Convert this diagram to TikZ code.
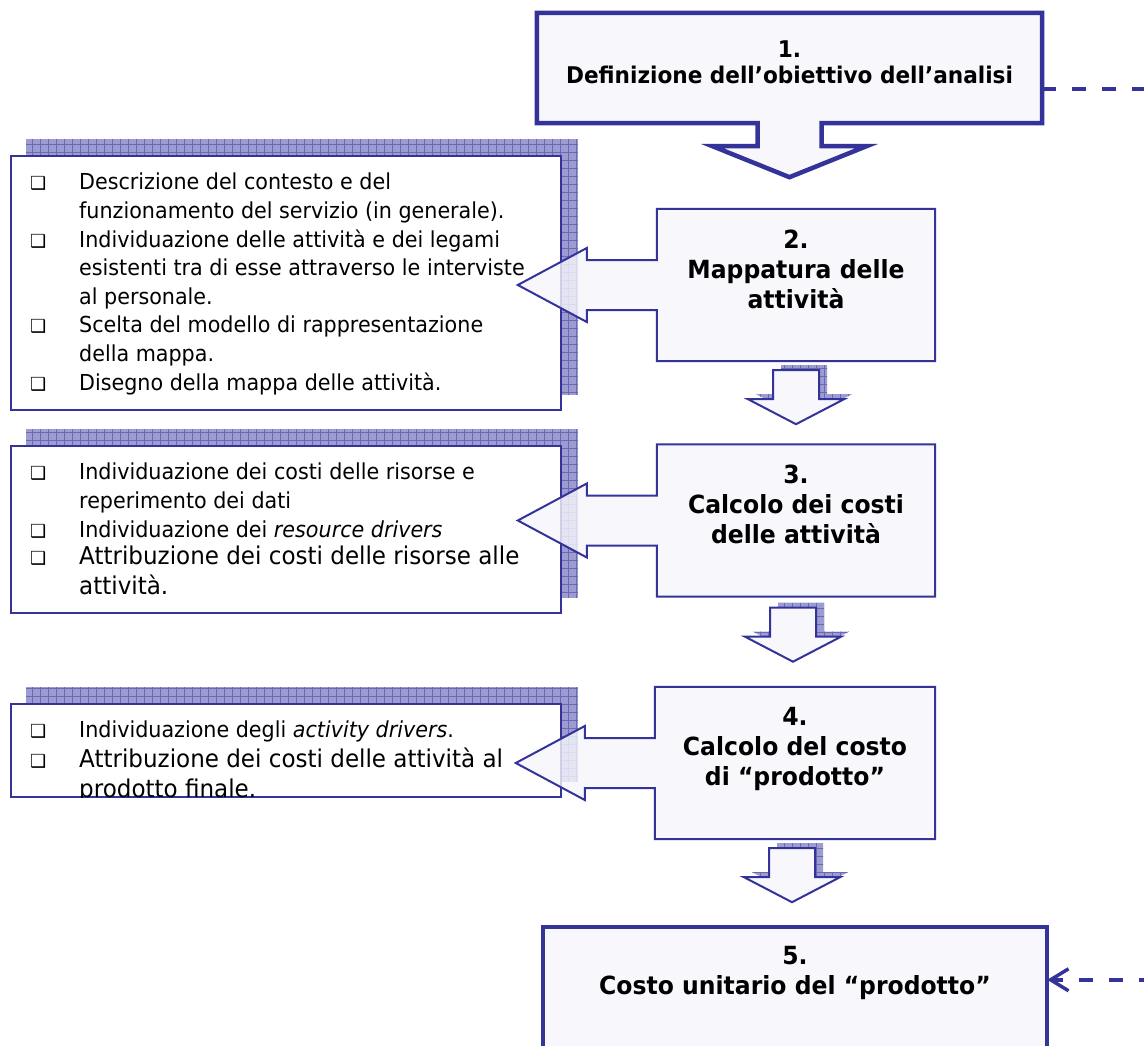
\documentclass[tikz,border=0pt]{standalone}
\usepackage{fontspec}
\setmainfont{DejaVu Sans}[FakeStretch=0.94]
\newfontfamily\dingfont{DejaVu Sans}
\usetikzlibrary{calc,arrows.meta,backgrounds,positioning}

\definecolor{boxline}{HTML}{333399}
\definecolor{boxfill}{HTML}{F7F7FC}
\definecolor{hatchfill}{HTML}{9C9CD2}
\definecolor{hatchline}{HTML}{6A6AB2}

\newcommand{\bul}{\llap{{\dingfont\fontsize{18}{18}\selectfont ❑}\hspace{33pt}}}
\newcommand{\callout}[1]{(#1.north west) -- (#1.north east) -- (#1.south east) -- (#1.south west)
  -- ($(#1.west)+(0,25)$) -- ($(#1.west)+(-70,25)$) -- ($(#1.west)+(-70,37)$) -- ($(#1.west)+(-139,0)$)
  -- ($(#1.west)+(-70,-37)$) -- ($(#1.west)+(-70,-25)$) -- ($(#1.west)+(0,-25)$) -- cycle}
\newcommand{\bigdown}[1]{(#1.north west) -- (#1.north east) -- (#1.south east)
  -- ($(#1.south)+(32,0)$) -- ($(#1.south)+(32,23)$) -- ($(#1.south)+(77,23)$) -- ($(#1.south)+(0,54)$)
  -- ($(#1.south)+(-77,23)$) -- ($(#1.south)+(-32,23)$) -- ($(#1.south)+(-32,0)$) -- (#1.south west) -- cycle}
\newcommand{\blockarrow}[1]{($(#1)+(-23,0)$) -- ($(#1)+(23,0)$) -- ($(#1)+(23,29)$) -- ($(#1)+(48,29)$)
  -- ($(#1)+(0,54)$) -- ($(#1)+(-48,29)$) -- ($(#1)+(-23,29)$) -- cycle}
\newcommand{\hatch}[2]{\fill[hatchfill] #1 rectangle #2;
  \begin{scope}\clip #1 rectangle #2; \draw[hatchline,line width=0.5,step=8pt] #1 grid #2;\end{scope}}

\begin{document}
\begin{tikzpicture}[x=1pt,y=-1pt,
    stepbox/.style={inner sep=0, minimum width=278, minimum height=152},
    bigbox/.style={inner sep=0, minimum width=505},
    stepline/.style={draw=boxline, line width=2, fill=boxfill},
    bigline/.style={draw=boxline, line width=4.5, fill=boxfill},
    notebox/.style={draw=boxline, line width=2, fill=white, inner sep=0,
                    minimum width=550, anchor=north west},
    title/.style={font=\bfseries\fontsize{25}{30}\selectfont, align=center, inner sep=0},
    bigtitle/.style={title, font=\bfseries\fontsize{23}{26}\selectfont},
    note/.style={font=\fontsize{22}{28.6}\selectfont, align=left, anchor=north west, inner sep=0},
    notebig/.style={note, font=\fontsize{24.5}{30}\selectfont},
    link/.style={draw=boxline, line width=3.5, dash pattern=on 14pt off 16pt}]

  \useasboundingbox (0,0) rectangle (1144,1046);

  % notes on the left
  \node[notebox, minimum height=254] (n2) at (10,155) {};
  \node[notebox, minimum height=167] (n3) at (10,445) {};
  \node[notebox, minimum height=93]  (n4) at (10,703) {};

  \node[note]    (n2t) at (79,173) {\bul Descrizione del contesto e del\\
                                    funzionamento del servizio (in generale).\\
                                    \bul Individuazione delle attività e dei legami\\
                                    esistenti tra di esse attraverso le interviste\\
                                    al personale.\\
                                    \bul Scelta del modello di rappresentazione\\
                                    della mappa.\\
                                    \bul Disegno della mappa delle attività.};
  \node[note]    (n3t) at (79,463) {\bul Individuazione dei costi delle risorse e\\
                                    reperimento dei dati\\
                                    \bul Individuazione dei \textit{resource drivers}};
  \node[notebig] (n3u) at (79,546) {\bul Attribuzione dei costi delle risorse alle\\
                                    attività.};
  \begin{scope}
    \clip (n4.north west) rectangle ($(n4.south east)+(0,-1)$);
    \node[note]    (n4t) at (79,721) {\bul Individuazione degli \textit{activity drivers}.};
    \node[notebig] (n4u) at (79,748) {\bul Attribuzione dei costi delle attività al\\
                                      prodotto finale.};
  \end{scope}

  % steps
  \node[bigbox, minimum height=110]             (s1) at (789.5,68) {};
  \node[stepbox]                                (s2) at (796,285)  {};
  \node[stepbox]                                (s3) at (796,520.5) {};
  \node[stepbox, minimum width=280]             (s4) at (795,763)  {};
  \node[bigbox, minimum width=504, minimum height=146] (s5) at (795,1000) {};

  \coordinate (a23) at ($(s2.south)+(0,9)$);
  \coordinate (a34) at ($(s3.south)+(-3,11)$);
  \coordinate (a45) at ($(s4.south)+(-3,9)$);
  \foreach \a in {a23,a34,a45}
    \coordinate (\a s) at ($(\a)+(8,-5)$);

  \begin{pgfonlayer}{background}
    \fill[white] (0,0) rectangle (1144,1046);
    \foreach \n in {n2,n3,n4}
      {\hatch{($(\n.north west)+(16,-16)$)}{($(\n.south east)+(16,-16)$)}}
    \foreach \a in {a23s,a34s,a45s}{
      \fill[hatchfill] \blockarrow{\a};
      \begin{scope}
        \clip \blockarrow{\a};
        \draw[hatchline, line width=0.5, step=8pt] ($(\a)+(-60,0)$) grid ($(\a)+(60,60)$);
      \end{scope}}
  \end{pgfonlayer}

  \draw[stepline, fill opacity=0.8] \callout{s2};
  \draw[stepline, fill opacity=0.8] \callout{s3};
  \draw[stepline, fill opacity=0.8] \callout{s4};
  \foreach \a in {a23,a34,a45}
    \draw[stepline] \blockarrow{\a};
  \draw[bigline] \bigdown{s1};
  \draw[bigline] (s5.north west) rectangle (s5.south east);

  \node[bigtitle] (t1) at ($(s1)+(0,-6)$)       {1.\\Definizione dell’obiettivo dell’analisi};
  \node[title]    (t2) at ($(s2)+(0,-16)$)     {2.\\Mappatura delle\\attività};
  \node[title]    (t3) at ($(s3)+(0,-16)$)     {3.\\Calcolo dei costi\\delle attività};
  \node[title]    (t4) at ($(s4)+(0,-14)$)     {4.\\Calcolo del costo\\di “prodotto”};
  \node[title]    (t5) at ($(s5.north)+(0,46)$) {5.\\Costo unitario del “prodotto”};

  % dashed return link
  \draw[link, -{Straight Barb[length=18pt,width=22pt]}]
    ($(s1.east)+(0,21)$) -- ++(150,0) |- ($(s5.north east)+(0,53)$);
\end{tikzpicture}
\end{document}
